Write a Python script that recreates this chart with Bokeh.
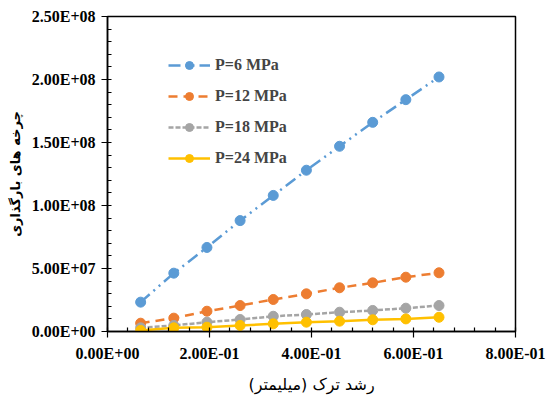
from bokeh.plotting import figure
from bokeh.models import FixedTicker, Range1d, Legend
from bokeh.embed import file_html
from bokeh.resources import INLINE

crack = [0.065, 0.13, 0.195, 0.26, 0.325, 0.39, 0.455, 0.52, 0.585, 0.65]
p6 = [2.33e7, 4.63e7, 6.67e7, 8.8e7, 1.08e8, 1.28e8, 1.47e8, 1.66e8, 1.84e8, 2.02e8]
p12 = [6.6e6, 1.06e7, 1.61e7, 2.06e7, 2.54e7, 2.99e7, 3.47e7, 3.86e7, 4.31e7, 4.66e7]
p18 = [2.9e6, 4.8e6, 7.4e6, 9.5e6, 1.21e7, 1.35e7, 1.53e7, 1.67e7, 1.85e7, 2.06e7]
p24 = [0.8e6, 2.9e6, 3.4e6, 4.8e6, 6.1e6, 7.4e6, 8.2e6, 9.3e6, 1.0e7, 1.13e7]

series_names = ["P=6 MPa", "P=12 MPa", "P=18 MPa", "P=24 MPa"]
series_vals = [p6, p12, p18, p24]
colors = ["#5B9BD5", "#ED7D31", "#A5A5A5", "#FFC000"]
dashes = ["12 5 2 5 2 5", "9 6", "5 2", "solid"]

x_ticks = [0.0, 0.2, 0.4, 0.6, 0.8]
x_labels = ["0.00E+00", "2.00E-01", "4.00E-01", "6.00E-01", "8.00E-01"]
y_ticks = [0, 5e7, 1e8, 1.5e8, 2e8, 2.5e8]
y_labels = ["0.00E+00", "5.00E+07", "1.00E+08", "1.50E+08", "2.00E+08", "2.50E+08"]

x_title = "رشد ترک (میلیمتر)"
y_title = "چرخه های بارگذاری"

p = figure(width=547, height=398, output_backend="svg", toolbar_location=None,
           x_range=Range1d(0, 0.8), y_range=Range1d(0, 2.5e8),
           min_border_left=107, min_border_right=32, min_border_top=16, min_border_bottom=67)

p.xgrid.visible = False
p.ygrid.visible = False
p.outline_line_color = "black"
p.outline_line_width = 1.5

items = []
for name, vals, c, d in zip(series_names, series_vals, colors, dashes):
    r1 = p.line(crack, vals, line_color=c, line_width=2.5, line_dash=d)
    r2 = p.scatter(crack, vals, size=10, fill_color=c, line_color=c)
    items.append((name, [r1, r2]))

legend = Legend(items=items, location=(61, 163))
legend.padding = 0
legend.margin = 0
legend.spacing = 11
legend.glyph_width = 42
legend.glyph_height = 20
legend.label_height = 20
legend.label_standoff = 5
legend.border_line_color = None
legend.background_fill_alpha = 0
legend.label_text_font = "Liberation Serif"
legend.label_text_font_style = "bold"
legend.label_text_font_size = "16px"
p.add_layout(legend)

xt = FixedTicker(ticks=x_ticks, minor_ticks=[i * 0.04 for i in range(21)])
yt = FixedTicker(ticks=y_ticks, minor_ticks=[i * 1e7 for i in range(26)])
p.xaxis.ticker = xt
p.yaxis.ticker = yt
p.xaxis.major_label_overrides = {t: l for t, l in zip(x_ticks, x_labels)}
p.yaxis.major_label_overrides = {t: l for t, l in zip(y_ticks, y_labels)}

for ax in [p.xaxis[0], p.yaxis[0]]:
    ax.axis_line_color = "black"
    ax.axis_line_width = 1.5
    ax.major_tick_line_color = "black"
    ax.major_tick_line_width = 1.2
    ax.major_tick_out = 6
    ax.major_tick_in = 0
    ax.minor_tick_line_color = "black"
    ax.minor_tick_line_width = 1.2
    ax.minor_tick_in = 4
    ax.minor_tick_out = 0
    ax.major_label_text_font = "Liberation Serif"
    ax.major_label_text_font_style = "bold"
    ax.major_label_text_font_size = "16px"
    ax.major_label_text_color = "black"
    ax.axis_label_text_font = "DejaVu Sans"
    ax.axis_label_text_color = "black"

p.xaxis.axis_label_text_font_style = "normal"
p.yaxis.axis_label_text_font_style = "bold"
p.xaxis.axis_label_text_font_size = "16px"
p.yaxis.axis_label_text_font_size = "13px"
p.xaxis.axis_label = x_title
p.yaxis.axis_label = y_title
p.xaxis.major_label_standoff = 7
p.yaxis.major_label_standoff = 6
p.xaxis.axis_label_standoff = 10
p.yaxis.axis_label_standoff = 6

open("out.html", "w").write(file_html(p, INLINE))
